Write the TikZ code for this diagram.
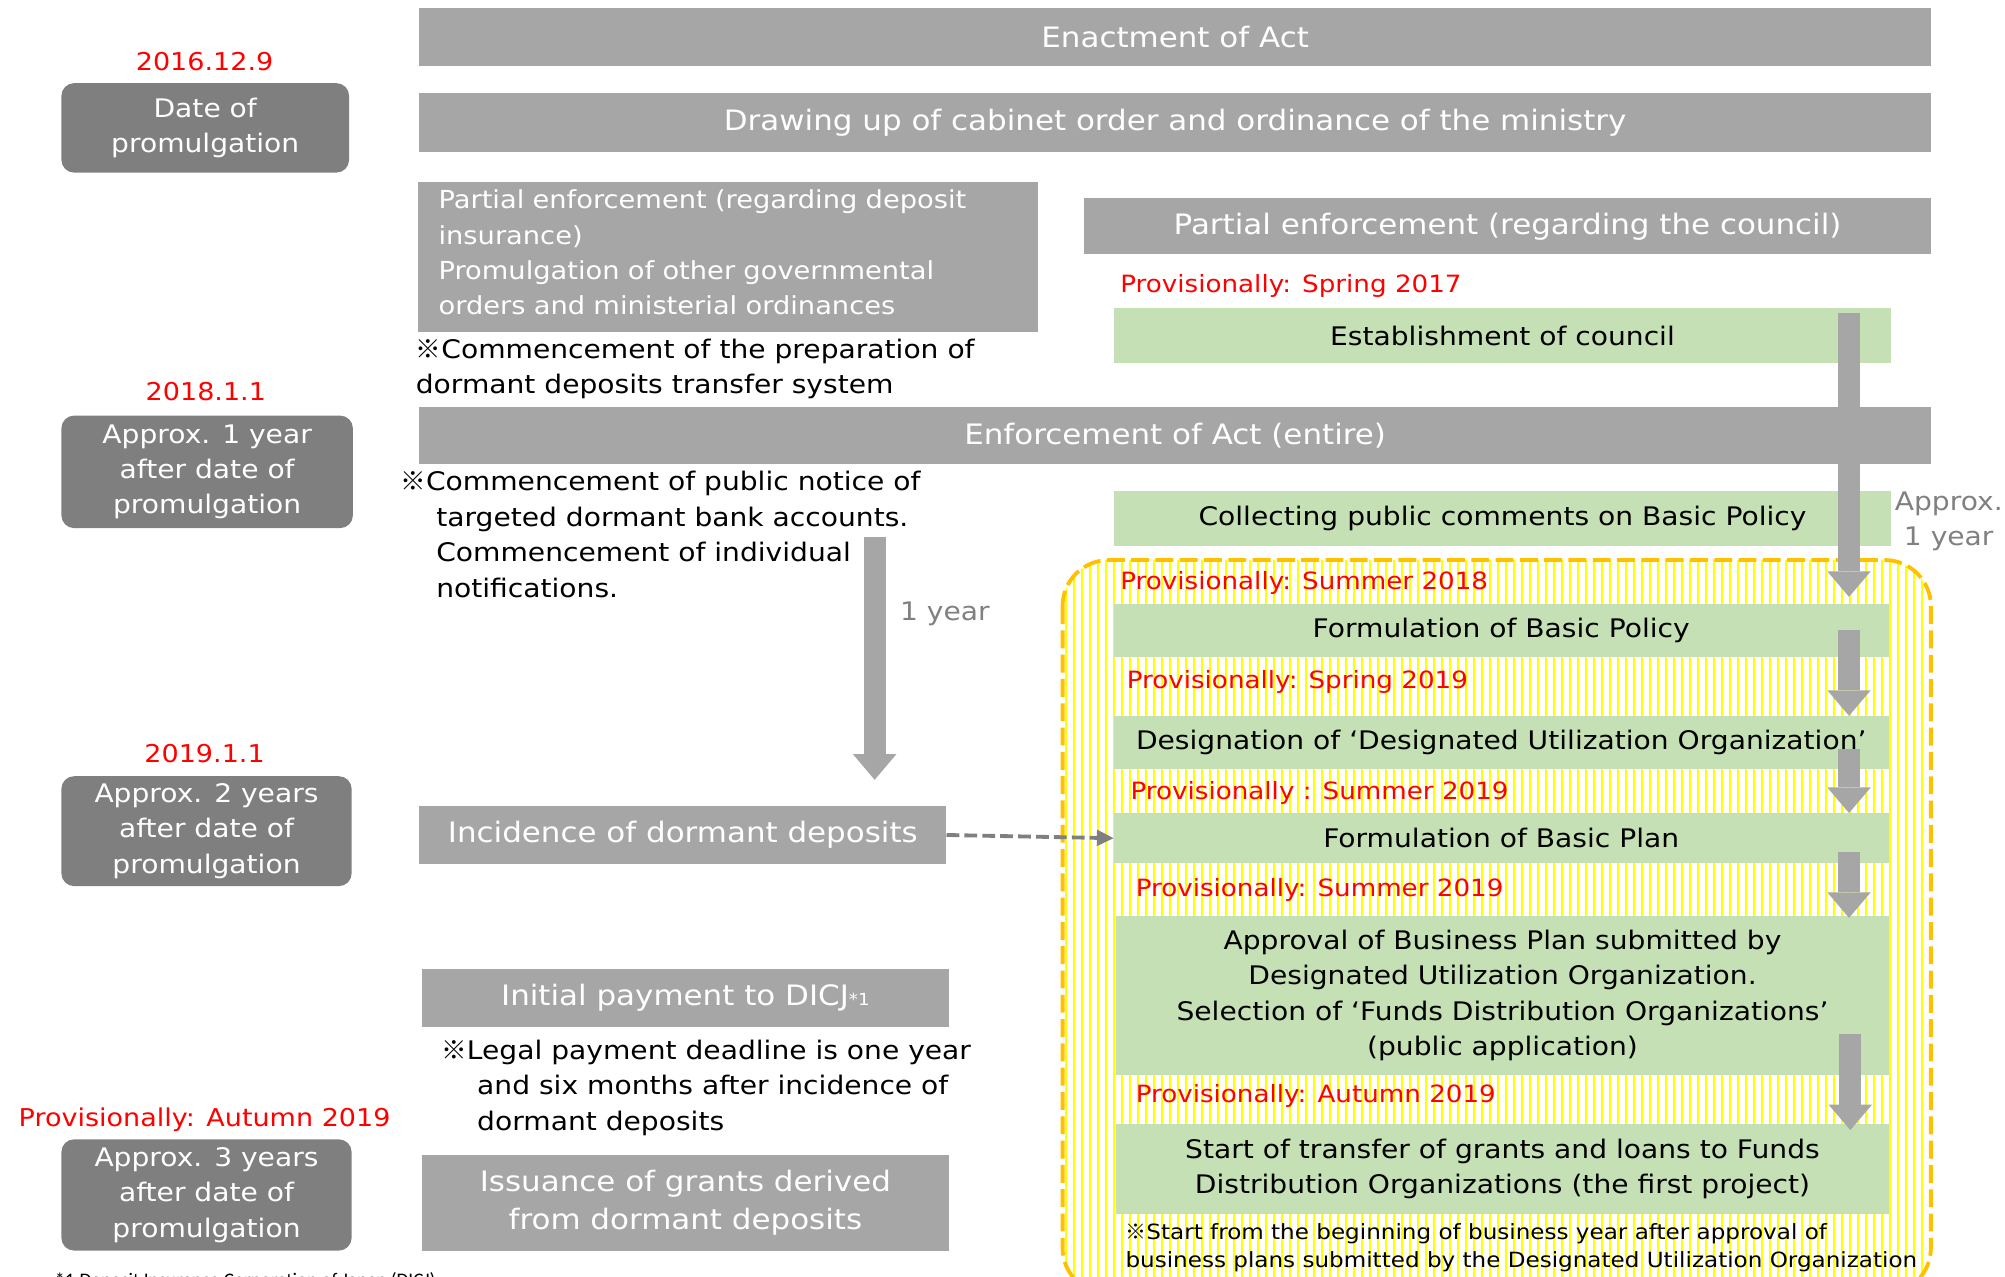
\documentclass[tikz,border=0pt]{standalone}
\usepackage{fontspec}
\setmainfont{DejaVu Sans}[FakeStretch=1.1]
\newfontfamily\cjk{Noto Sans CJK JP}
\newfontfamily\footfont{Carlito}
\usetikzlibrary{arrows.meta,calc}

\definecolor{barGray}{HTML}{A6A6A6}
\definecolor{dateGray}{HTML}{7F7F7F}
\definecolor{paleGreen}{HTML}{C5E0B4}
\definecolor{stripeYellow}{HTML}{FFFF00}
\definecolor{frameGold}{HTML}{FFC000}
\definecolor{labelGray}{HTML}{808080}

\newcommand\barfont{\fontsize{22}{30}\selectfont}
\newcommand\boxfont{\fontsize{20}{27.7}\selectfont}
\newcommand\datefont{\fontsize{19.2}{24}\selectfont}
\newcommand\provfont{\fontsize{18.6}{24}\selectfont}
\newcommand\notefont{\fontsize{16.4}{22}\selectfont}
\newcommand\refmark{{\cjk ※}}

\begin{document}
\begin{tikzpicture}[x=1pt,y=-1pt,
  bar/.style={fill=barGray,text=white,font=\barfont,inner sep=0pt,align=center},
  datebox/.style={fill=dateGray,text=white,rounded corners=10pt,font=\boxfont,inner sep=0pt,align=center},
  greenbox/.style={fill=paleGreen,font=\boxfont,inner sep=0pt,align=center},
  redlabel/.style={text=red,font=\datefont,inner sep=0pt},
  provlabel/.style={redlabel,font=\provfont,anchor=west},
  note/.style={font=\boxfont,inner sep=0pt,align=left},
  graylabel/.style={text=labelGray,font=\boxfont,inner sep=0pt,align=center},
  bigarrow/.style={draw=barGray,line width=17pt,-{Triangle[width=34pt,length=20pt,line width=0pt]}},
  dasharrow/.style={draw=dateGray,line width=3pt,dash pattern=on 10pt off 4pt,-{Triangle[width=13pt,length=13pt,line width=0pt]}},
  stripeline/.style={draw=stripeYellow,line width=1.6pt},
  goldframe/.style={draw=frameGold,line width=3pt,dash pattern=on 14pt off 5pt,rounded corners=36pt}]
\useasboundingbox (0,0) rectangle (1568,998);

% dates on the left
\node[redlabel](d1lab) at (160,48){2016.12.9};
\node[datebox,minimum width=225pt,minimum height=70pt](d1) at (160.5,100){Date of\\promulgation};
\node[redlabel](d2lab) at (161,306){2018.1.1};
\node[datebox,minimum width=228pt,minimum height=88pt](d2) at (162,369){Approx. 1 year\\after date of\\promulgation};
\node[redlabel](d3lab) at (160,589){2019.1.1};
\node[datebox,minimum width=227pt,minimum height=86pt](d3) at (161.5,650){Approx. 2 years\\after date of\\promulgation};
\node[redlabel](d4lab) at (160,876){Provisionally: Autumn 2019};
\node[datebox,minimum width=227pt,minimum height=87pt](d4) at (161.5,934.5){Approx. 3 years\\after date of\\promulgation};
\node[anchor=base west,inner sep=0pt,font=\footfont\fontsize{15}{18}\selectfont](dicj) at (43,1006){*1:Deposit Insurance Corporation of Japan (DICJ)};

% striped area
\begin{scope}
\clip[rounded corners=36pt] (831,438) rectangle (1510,1012);
\foreach \sx in {834,840.25,...,1508}
  \draw[stripeline] (\sx,438) -- (\sx,1012);
\end{scope}
\draw[goldframe] (831,438) rectangle (1510,1012);

% main column
\node[bar,minimum width=1182pt,minimum height=46pt](enact) at (919,29){Enactment of Act};
\node[bar,minimum width=1182pt,minimum height=46pt](drawup) at (919,96){Drawing up of cabinet order and ordinance of the ministry};
\node[bar,font=\fontsize{19.4}{27.7}\selectfont,align=left,text width=453pt,inner xsep=16pt,minimum width=485pt,minimum height=118pt](partdep) at (569.5,201){Partial enforcement (regarding deposit\\insurance)\\Promulgation of other governmental\\orders and ministerial ordinances\vspace{7pt}};
\node[note,anchor=west](prepnote) at (325,288.5){\refmark Commencement of the preparation of\\dormant deposits transfer system};
\node[bar,minimum width=1182pt,minimum height=45pt](enforce) at (919,340.5){Enforcement of Act (entire)};
\node[note,anchor=west](pubnote) at (313,418){\refmark Commencement of public notice of\\\hspace*{28pt}targeted dormant bank accounts.\\\hspace*{28pt}Commencement of individual\\\hspace*{28pt}notifications.};
\node[graylabel](oneyear) at (739,480){1 year};
\node[bar,minimum width=412pt,minimum height=46pt](inc) at (534,653){Incidence of dormant deposits};
\node[bar,minimum width=412pt,minimum height=45pt](initpay) at (536,780.5){Initial payment to DICJ{\fontsize{13}{13}\selectfont *1}};
\node[note,anchor=west](paynote) at (345,850.5){\refmark Legal payment deadline is one year\\\hspace*{28pt}and six months after incidence of\\\hspace*{28pt}dormant deposits};
\node[bar,minimum width=412pt,minimum height=75pt](issue) at (536,940.5){Issuance of grants derived\\from dormant deposits};

% council side
\node[bar,minimum width=662pt,minimum height=44pt](partcouncil) at (1179,177){Partial enforcement (regarding the council)};
\node[provlabel](r1) at (876,224){Provisionally: Spring 2017};
\node[greenbox,minimum width=608pt,minimum height=43pt](council) at (1175,262.5){Establishment of council};
\node[greenbox,minimum width=608pt,minimum height=43pt](collect) at (1175,405.5){Collecting public comments on Basic Policy};
\node[graylabel](approx) at (1524,407.5){Approx.\\1 year};
\node[provlabel](r2) at (876,456){Provisionally: Summer 2018};
\node[greenbox,minimum width=606pt,minimum height=42pt](bpolicy) at (1174,493){Formulation of Basic Policy};
\node[provlabel](r3) at (881,533){Provisionally: Spring 2019};
\node[greenbox,minimum width=606pt,minimum height=41pt](desig) at (1174,580.5){Designation of ‘Designated Utilization Organization’};
\node[provlabel](r4) at (884,620){Provisionally : Summer 2019};
\node[greenbox,minimum width=606pt,minimum height=39pt](bplan) at (1174,655.5){Formulation of Basic Plan};
\node[provlabel](r5) at (888,696){Provisionally: Summer 2019};
\node[greenbox,minimum width=604pt,minimum height=125pt](approval) at (1175,778.5){Approval of Business Plan submitted by\\Designated Utilization Organization.\\Selection of ‘Funds Distribution Organizations’\\(public application)};
\node[provlabel](r6) at (888,857){Provisionally: Autumn 2019};
\node[greenbox,minimum width=604pt,minimum height=70pt](start) at (1175,914){Start of transfer of grants and loans to Funds\\Distribution Organizations (the first project)};
\node[note,font=\notefont,anchor=west](startnote) at (880,976){\refmark Start from the beginning of business year after approval of\\business plans submitted by the Designated Utilization Organization};

% arrows
\coordinate (yrtop) at (684,420);
\coordinate (ax) at (1446,0);
\draw[bigarrow] (yrtop) -- ($(inc.north -| yrtop)+(0,-20)$);
\draw[dasharrow] (inc.east) -- (bplan.west);
\draw[bigarrow] ($(council.north -| ax)+(0,4)$) -- ($(bpolicy.north -| ax)+(0,-5)$);
\draw[bigarrow] (bpolicy.center -| ax) -- (desig.north -| ax);
\draw[bigarrow] ($(desig.center -| ax)+(0,5.5)$) -- (bplan.north -| ax);
\draw[bigarrow] ($(bplan.center -| ax)+(0,11)$) -- ($(approval.north -| ax)+(0,2)$);
\draw[bigarrow] ($(approval.center -| ax)+(1,30)$) -- ($(start.north -| ax)+(1,5)$);
\end{tikzpicture}
\end{document}
